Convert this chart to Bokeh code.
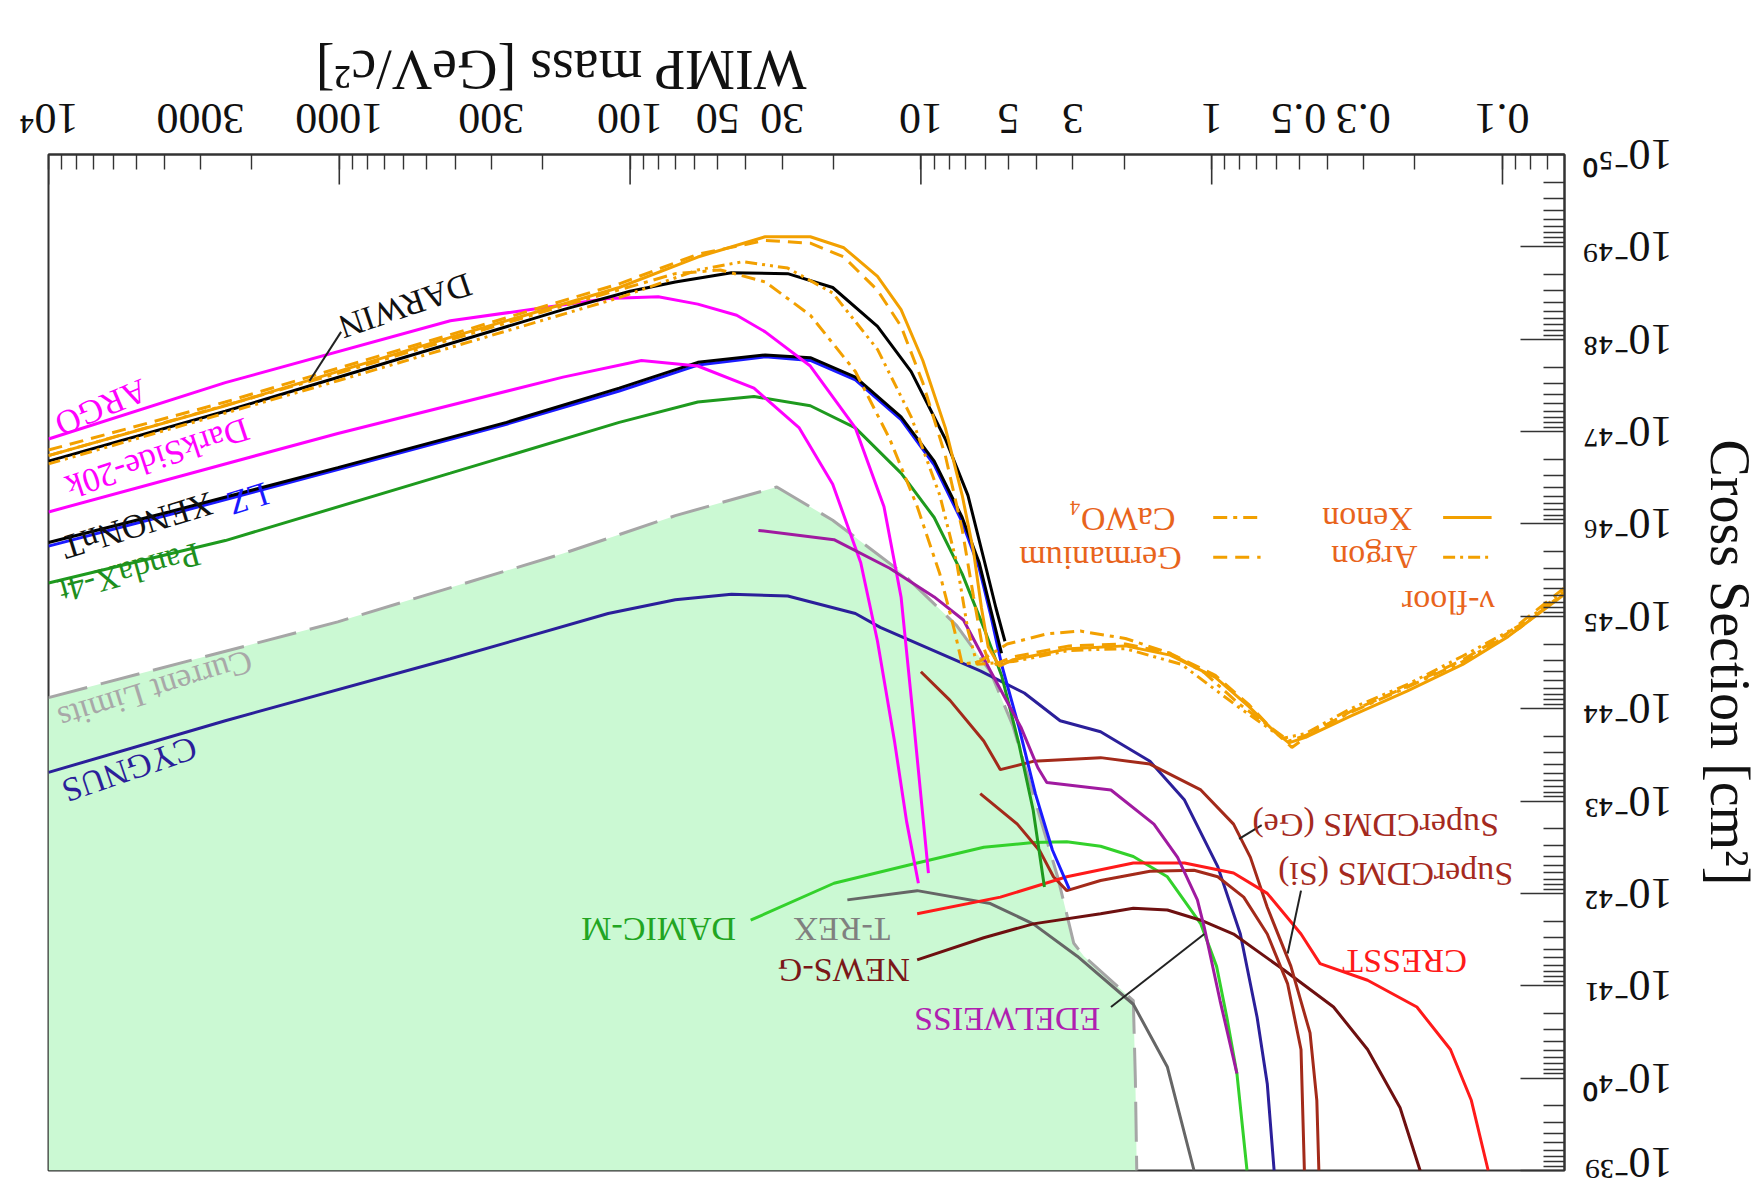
import math
from bokeh.plotting import figure
from bokeh.models import (Range1d, FixedTicker, CustomJSTickFormatter, Label, Arrow)
from bokeh.embed import file_html
from bokeh.resources import INLINE

FONT = "Liberation Serif"

# ---------------- axes ----------------
x_decades = [0.1, 1, 10, 100, 1000, 10000]
x_label_vals = [0.1, 0.3, 0.5, 1, 3, 5, 10, 30, 50, 100, 300, 1000, 3000, 10000]
x_label_text = ["0.1", "0.3", "0.5", "1", "3", "5", "10", "30", "50", "100", "300", "1000", "3000", "10⁴"]
y_exponents = [-50, -49, -48, -47, -46, -45, -44, -43, -42, -41, -40, -39]
y_label_text = ["10⁻⁵⁰", "10⁻⁴⁹", "10⁻⁴⁸", "10⁻⁴⁷", "10⁻⁴⁶", "10⁻⁴⁵",
                "10⁻⁴⁴", "10⁻⁴³", "10⁻⁴²", "10⁻⁴¹", "10⁻⁴⁰", "10⁻³⁹"]

# ---------------- curves: WIMP mass [GeV/c^2], log10(cross section [cm^2]) ----------------
argo_m = [10000, 2466, 415, 119, 80, 58.5, 43, 34.3, 24.0, 16.8, 13.4, 11.7, 10.6, 9.42]
argo_s = [-46.92, -47.53, -48.20, -48.44, -48.46, -48.38, -48.26, -48.08, -47.71, -47.04, -46.19, -45.21, -43.87, -42.22]

ds20k_m = [10000, 1012, 170, 91.4, 58.5, 37.5, 26.2, 20.1, 16.1, 14.1, 12.3, 11.2, 10.2]
ds20k_s = [-46.13, -46.98, -47.59, -47.77, -47.71, -47.47, -47.04, -46.43, -45.58, -44.73, -43.63, -42.78, -42.11]

darwin_m = [10000, 2466, 649, 170, 100, 69.9, 44.8, 28.7, 20.1, 14.1, 10.8, 8.24, 6.89, 6.03, 5.52, 5.14]
darwin_s = [-46.68, -47.22, -47.77, -48.32, -48.52, -48.62, -48.72, -48.71, -48.56, -48.14, -47.65, -46.92, -46.31, -45.58, -45.09, -44.73]

xenonnt_m = [10000, 3855, 1012, 266, 109, 58.5, 34.3, 24.0, 16.8, 11.7, 9.0, 7.21, 6.30, 5.77, 5.28]
xenonnt_s = [-45.80, -46.13, -46.61, -47.10, -47.47, -47.75, -47.83, -47.80, -47.59, -47.16, -46.68, -46.07, -45.58, -45.09, -44.60]

lz_m = [10000, 3855, 1012, 266, 109, 58.5, 34.3, 24.0, 16.8, 11.7, 9.0, 7.21, 6.30, 5.77, 5.28, 4.61, 4.04, 3.53, 3.09]
lz_s = [-45.76, -46.10, -46.59, -47.08, -47.44, -47.72, -47.81, -47.77, -47.56, -47.13, -46.64, -46.02, -45.52, -45.03, -44.48, -43.81, -43.08, -42.47, -42.05]

pandax_m = [10000, 2466, 415, 109, 58.5, 37.5, 24.0, 16.8, 11.7, 9.0, 7.21, 6.03, 5.28, 4.61, 4.11, 3.76]
pandax_s = [-45.36, -45.82, -46.55, -47.10, -47.32, -47.38, -47.28, -47.04, -46.55, -46.07, -45.46, -44.85, -44.36, -43.63, -42.90, -42.07]

limits_m = [10000, 1012, 170, 69.9, 31.3, 20.1, 11.7, 7.53, 5.77, 4.82, 3.90, 3.38, 2.98, 2.75, 1.86, 1.83, 1.81]
limits_s = [-44.12, -44.94, -45.68, -46.09, -46.40, -46.04, -45.48, -44.90, -44.40, -43.81, -42.83, -42.17, -41.46, -41.32, -40.84, -39.98, -39.0]

cygnus_m = [10000, 2466, 415, 119, 69.9, 44.8, 28.7, 16.8, 13.8, 6.25, 4.41, 3.32, 2.41, 1.63, 1.24, 0.953, 0.797, 0.698, 0.644, 0.610]
cygnus_s = [-43.31, -43.87, -44.54, -45.03, -45.18, -45.24, -45.22, -45.03, -44.88, -44.41, -44.17, -43.87, -43.75, -43.43, -43.01, -42.29, -41.56, -40.66, -39.94, -39.0]

damic_m = [38.5, 19.9, 10.3, 6.08, 4.11, 3.15, 2.41, 1.86, 1.42, 1.09, 0.962, 0.887, 0.819, 0.756]
damic_s = [-41.71, -42.11, -42.33, -42.50, -42.55, -42.56, -42.51, -42.40, -42.18, -41.67, -41.21, -40.66, -40.05, -39.0]

edelweiss_m = [36.2, 19.9, 12.8, 9.0, 7.14, 5.77, 4.53, 3.96, 3.69, 2.22, 1.58, 1.31, 1.12, 1.06, 0.936, 0.819]
edelweiss_s = [-45.93, -45.83, -45.52, -45.21, -44.96, -44.41, -43.80, -43.36, -43.20, -43.12, -42.75, -42.39, -41.93, -41.63, -40.84, -40.05]

trex_m = [17.9, 10.3, 5.77, 4.11, 2.90, 1.86, 1.42, 1.15]
trex_s = [-41.93, -42.03, -41.89, -41.67, -41.32, -40.80, -40.12, -39.0]

newsg_m = [10.3, 6.08, 4.11, 2.41, 1.86, 1.42, 1.09, 0.841, 0.564, 0.381, 0.291, 0.225, 0.192]
newsg_s = [-41.28, -41.52, -41.67, -41.78, -41.84, -41.82, -41.71, -41.56, -41.17, -40.77, -40.31, -39.68, -39.0]

cresst_m = [10.3, 5.33, 3.15, 1.86, 1.24, 0.841, 0.644, 0.493, 0.424, 0.291, 0.197, 0.151, 0.128, 0.112]
cresst_s = [-41.78, -41.96, -42.18, -42.33, -42.33, -42.22, -42.00, -41.56, -41.24, -41.06, -40.77, -40.31, -39.76, -39.0]

cdms_si_m = [6.25, 4.66, 3.90, 3.50, 3.15, 2.41, 1.63, 1.15, 0.953, 0.776, 0.644, 0.548, 0.493, 0.480]
cdms_si_s = [-43.08, -42.75, -42.46, -42.18, -42.03, -42.14, -42.24, -42.25, -42.18, -41.96, -41.56, -41.02, -40.31, -39.0]

cdms_ge_m = [10.0, 7.94, 6.08, 5.33, 4.11, 2.41, 1.63, 1.09, 0.841, 0.736, 0.644, 0.534, 0.459, 0.435, 0.428]
cdms_ge_s = [-44.40, -44.09, -43.65, -43.34, -43.43, -43.47, -43.40, -43.12, -42.75, -42.39, -41.85, -41.21, -40.49, -39.76, -39.0]

nu_xe_m = [10000, 2466, 415, 109, 58.5, 34.3, 24.0, 18.4, 14.1, 11.7, 9.85, 8.24, 7.21, 6.59, 6.19, 5.87, 5.37,
           4.82, 3.09, 1.98, 1.39, 0.971, 0.743, 0.621, 0.543, 0.476, 0.333, 0.213, 0.137, 0.0957, 0.0612]
nu_xe_s = [-46.74, -47.28, -48.02, -48.56, -48.89, -49.11, -49.11, -48.99, -48.68, -48.32, -47.77, -47.04, -46.31, -45.70, -45.09, -44.67, -44.46,
           -44.53, -44.65, -44.68, -44.58, -44.34, -44.02, -43.78, -43.63, -43.69, -43.92, -44.19, -44.48, -44.78, -45.24]

nu_ge_m = [10000, 2466, 415, 109, 58.5, 34.3, 24.0, 18.4, 14.1, 11.7, 9.85, 8.24, 7.21, 6.59, 6.19, 5.77,
           4.82, 3.09, 1.98, 1.39, 0.971, 0.743, 0.621, 0.530, 0.455, 0.333, 0.213, 0.137, 0.0957, 0.0612]
nu_ge_s = [-46.80, -47.32, -48.05, -48.60, -48.92, -49.07, -49.04, -48.89, -48.53, -48.14, -47.53, -46.74, -45.94, -45.21, -44.73, -44.46,
           -44.56, -44.68, -44.70, -44.60, -44.36, -44.04, -43.78, -43.58, -43.73, -43.97, -44.24, -44.53, -44.82, -45.31]

nu_ar_m = [10000, 1012, 109, 58.5, 40.9, 28.7, 20.1, 14.1, 10.8, 8.61, 7.53, 6.89, 6.41,
           4.82, 3.09, 1.98, 1.27, 0.811, 0.569, 0.476, 0.333, 0.213, 0.137, 0.0875, 0.0612]
nu_ar_s = [-46.65, -47.55, -48.45, -48.75, -48.84, -48.77, -48.50, -47.89, -47.16, -46.31, -45.58, -44.85, -44.48,
           -44.51, -44.63, -44.65, -44.48, -44.02, -43.68, -43.73, -44.00, -44.26, -44.57, -44.90, -45.27]

nu_ca_m = [10000, 1012, 170, 69.9, 48.9, 34.3, 24.0, 16.8, 12.8, 10.3, 8.61, 7.67, 7.21,
           6.30, 5.05, 3.69, 2.83, 1.98, 1.39, 1.06, 0.811, 0.543, 0.476, 0.333, 0.213, 0.137, 0.0875, 0.0612]
nu_ca_s = [-46.74, -47.63, -48.36, -48.71, -48.75, -48.62, -48.26, -47.65, -46.92, -46.19, -45.46, -44.85, -44.48,
           -44.51, -44.70, -44.81, -44.84, -44.76, -44.60, -44.39, -44.06, -43.65, -43.71, -43.96, -44.23, -44.51, -44.87, -45.26]


def xs(logs):
    return [10.0 ** v for v in logs]


X_START, X_END = 1e4, 0.0612
Y_START, Y_END = 1e-39, 1e-50
FRAME_W, FRAME_H = 1516, 1016

p = figure(width=1764, height=1186,
           x_axis_type="log", y_axis_type="log",
           x_range=Range1d(X_START, X_END), y_range=Range1d(Y_START, Y_END),
           x_axis_location="above", y_axis_location="right",
           output_backend="svg", toolbar_location=None,
           min_border_left=48, min_border_right=200, min_border_top=154, min_border_bottom=16)
p.title.visible = False
p.xgrid.visible = False
p.ygrid.visible = False
p.background_fill_color = "white"
p.border_fill_color = "white"
p.outline_line_color = "#333333"
p.outline_line_width = 2

x_minor = [k * 10.0 ** e for e in range(-2, 4) for k in range(2, 10) if X_END <= k * 10.0 ** e <= X_START]
y_minor = [k * 10.0 ** e for e in range(-50, -39) for k in range(2, 10)]

# upside-down tick labels are drawn from their start point, so each label anchor
# is moved by half its text width to centre the text on its tick
px_per_decade_x = FRAME_W / math.log10(X_START / X_END)
half_width_px = [27, 27, 27, 11, 11, 11, 22, 22, 22, 33, 33, 44, 44, 30]
x_label_pos = [v * 10 ** (-hw / px_per_decade_x) for v, hw in zip(x_label_vals, half_width_px)]

xa = p.xaxis[0]
xa.ticker = FixedTicker(ticks=x_label_pos, minor_ticks=x_minor + x_decades)
xa.formatter = CustomJSTickFormatter(args=dict(pos=x_label_pos, txt=x_label_text), code="""
for (let i = 0; i < pos.length; i++) {
  if (Math.abs(Math.log10(tick) - Math.log10(pos[i])) < 1e-6) return txt[i];
}
return "";
""")
xa.major_tick_in = 0
xa.major_tick_line_color = None
xa.minor_tick_in = 15
xa.major_label_standoff = 36
xa.axis_label = "WIMP mass [GeV/c²]"
xa.axis_label_standoff = -3

ya = p.yaxis[0]
ya.ticker = FixedTicker(ticks=[10.0 ** e for e in y_exponents], minor_ticks=y_minor)
ya.formatter = CustomJSTickFormatter(args=dict(vals=y_exponents, txt=y_label_text), code="""
const e = Math.round(Math.log10(tick));
for (let i = 0; i < vals.length; i++) { if (vals[i] == e) return txt[i]; }
return "";
""")
ya.major_tick_in = 44
ya.minor_tick_in = 21
ya.major_label_standoff = 108
ya.axis_label = "Cross Section [cm²]"
ya.axis_label_standoff = -66

for ax in (xa, ya):
    ax.major_tick_out = 0
    ax.minor_tick_out = 0
    ax.minor_tick_line_color = "#333333"
    ax.minor_tick_line_width = 1.4
    ax.axis_line_color = "#333333"
    ax.axis_line_width = 2
    ax.major_label_orientation = math.pi
    ax.major_label_text_font = FONT
    ax.major_label_text_font_size = "44px"
    ax.major_label_text_color = "#111111"
    ax.axis_label_text_font = FONT
    ax.axis_label_text_font_size = "56px"
    ax.axis_label_text_font_style = "normal"
    ax.axis_label_text_color = "#111111"
ya.major_tick_line_color = "#333333"
ya.major_tick_line_width = 1.6
try:
    xa.axis_label_orientation = math.pi
except Exception:
    pass

# long ticks at the decades of the mass axis (inside the top frame edge)
for d in x_decades:
    p.add_layout(Arrow(end=None, x_start=d, y_start=Y_END, x_end=d, y_end=Y_END * 10 ** 0.325,
                       line_color="#333333", line_width=1.6))

# ---------------- fill of current limits ----------------
p.patch(limits_m + [limits_m[-1], limits_m[0]], xs(limits_s) + [Y_START, Y_START],
        fill_color="#cbf9d3", line_color=None)

LW = 3
p.line(limits_m, xs(limits_s), line_color="#a6a6a6", line_width=LW, line_dash="40 14")
p.line(cygnus_m, xs(cygnus_s), line_color="#2b1f9a", line_width=LW)
p.line(trex_m, xs(trex_s), line_color="#666666", line_width=LW)
p.line(damic_m, xs(damic_s), line_color="#33d12b", line_width=LW)
p.line(newsg_m, xs(newsg_s), line_color="#6e1010", line_width=LW)
p.line(cdms_si_m, xs(cdms_si_s), line_color="#a32a1a", line_width=LW)
p.line(cdms_ge_m, xs(cdms_ge_s), line_color="#a32a1a", line_width=LW)
p.line(cresst_m, xs(cresst_s), line_color="#ff1a1a", line_width=LW)
p.line(pandax_m, xs(pandax_s), line_color="#1e9a1e", line_width=LW)
p.line(lz_m, xs(lz_s), line_color="#1a1aff", line_width=LW)
p.line(xenonnt_m, xs(xenonnt_s), line_color="#000000", line_width=LW)
p.line(ds20k_m, xs(ds20k_s), line_color="#ff00ff", line_width=LW)
p.line(argo_m, xs(argo_s), line_color="#ff00ff", line_width=LW)
p.line(darwin_m, xs(darwin_s), line_color="#000000", line_width=LW)
p.line(edelweiss_m, xs(edelweiss_s), line_color="#a01aa0", line_width=LW)

ORANGE = "#f2a000"
p.line(nu_ca_m, xs(nu_ca_s), line_color=ORANGE, line_width=LW, line_dash="14 6 4 6")
p.line(nu_ar_m, xs(nu_ar_s), line_color=ORANGE, line_width=LW, line_dash="12 5 3 5 3 5")
p.line(nu_ge_m, xs(nu_ge_s), line_color=ORANGE, line_width=LW, line_dash="14 8")
p.line(nu_xe_m, xs(nu_xe_s), line_color=ORANGE, line_width=LW)

# ---------------- legend samples ----------------
legend_lines = [
    (0.160, 0.109, -46.07, None),          # Xenon
    (0.160, 0.109, -45.64, "12 5 3 5"),    # Argon
    (0.988, 0.679, -46.07, "14 6 4 6"),    # CaWO4
    (0.988, 0.679, -45.64, "14 8"),        # Germanium
]
for m0, m1, s, dash in legend_lines:
    kw = dict(line_dash=dash) if dash else {}
    p.add_layout(Arrow(end=None, x_start=m0, y_start=10 ** s, x_end=m1, y_end=10 ** s,
                       line_color=ORANGE, line_width=LW, **kw))

# ---------------- pointer lines ----------------
pointers = [
    (986, -48.08, 1265, -47.55),     # DARWIN
    (2.22, -40.77, 1.06, -41.56),    # EDELWEISS
    (0.673, -42.74, 0.805, -42.59),  # SuperCDMS (Ge)
    (0.493, -42.03, 0.548, -41.35),  # SuperCDMS (Si)
]
for m0, s0, m1, s1 in pointers:
    p.add_layout(Arrow(end=None, x_start=m0, y_start=10 ** s0, x_end=m1, y_end=10 ** s1,
                       line_color="#222222", line_width=2))

# ---------------- curve labels (upside-down text) ----------------
labels = [
    ("ARGO", 6580, -47.26, "#ff00ff", 0.40),
    ("DarkSide-20k", 4217, -46.71, "#ff00ff", 0.32),
    ("DARWIN", 593, -48.36, "#111111", 0.33),
    ("LZ", 2065, -46.27, "#1a1aff", 0.30),
    ("XENONnT", 4946, -45.98, "#111111", 0.30),
    ("PandaX-4t", 5262, -45.47, "#1e8f1e", 0.27),
    ("Current Limits", 4289, -44.20, "#a8a8a8", 0.30),
    ("CYGNUS", 5262, -43.34, "#2b1f9a", 0.33),
    ("DAMIC-M", 79.8, -41.61, "#22a522", 0.0),
    ("T-REX", 18.7, -41.61, "#808080", 0.0),
    ("NEWS-G", 18.4, -41.17, "#7a1818", 0.0),
    ("EDELWEISS", 5.05, -40.63, "#b01fb0", 0.0),
    ("SuperCDMS (Ge)", 0.273, -42.74, "#a52a1e", 0.0),
    ("SuperCDMS (Si)", 0.233, -42.21, "#a52a1e", 0.0),
    ("CRESST", 0.217, -41.26, "#ff1a1a", 0.0),
    ("ν-floor", 0.1535, -45.15, "#e8641c", 0.0),
    ("Xenon", 0.291, -46.05, "#e8641c", 0.0),
    ("Argon", 0.276, -45.64, "#e8641c", 0.0),
    ("CaWO₄", 2.03, -46.05, "#e8641c", 0.0),
    ("Germanium", 2.41, -45.63, "#e8641c", 0.0),
]
for txt, m, s, c, tilt in labels:
    p.add_layout(Label(x=m, y=10 ** s, text=txt, text_color=c, text_font=FONT,
                       text_font_size="34px", text_align="center", text_baseline="middle",
                       angle=math.pi + tilt))

open("out.html", "w").write(file_html(p, INLINE))
